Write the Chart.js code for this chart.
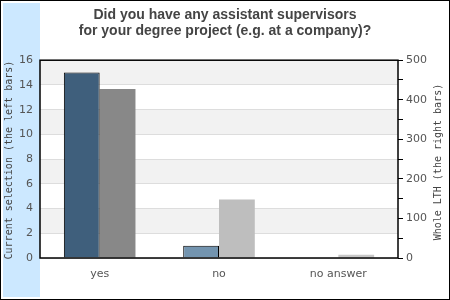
<!DOCTYPE html>
<html>
<head>
<meta charset="utf-8">
<script src="https://cdn.jsdelivr.net/npm/chart.js@4/dist/chart.umd.min.js"></script>
<style>
  html, body { margin: 0; padding: 0; background: #fff; }
  #wrap { width: 450px; height: 300px; position: relative; }
</style>
</head>
<body>
<div id="wrap"><canvas id="chart" width="450" height="300"></canvas></div>
<script>
// answers and counts
const categories = ['yes', 'no', 'no answer'];
const currentSelection = [15, 1, 0];
const wholeLTH = [427, 148, 8];
const leftTicks = [0, 2, 4, 6, 8, 10, 12, 14, 16];
const rightTicks = [0, 100, 200, 300, 400, 500];

const leftColors = ['#3f5f7c', '#7394af', '#7394af'];
const rightColors = ['#888888', '#bebebe', '#c8c8c8'];

const leftTitle = 'Current selection (the left bars)';
const rightTitle = 'Whole LTH (the right bars)';

function drawSideTitle(ctx, text, x, y) {
    ctx.save();
    ctx.translate(x, y);
    ctx.rotate(-Math.PI / 2);
    ctx.fillStyle = '#444';
    ctx.font = '10px "DejaVu Sans Mono"';
    ctx.textAlign = 'center';
    ctx.textBaseline = 'middle';
    ctx.fillText(text, 0, 0);
    ctx.restore();
}

// light blue strip on the left, outer frame, striped plot background
const framePlugin = {
    id: 'frame',
    beforeDraw(chart) {
        const ctx = chart.ctx;
        const a = chart.chartArea;
        ctx.save();
        ctx.fillStyle = '#ffffff';
        ctx.fillRect(0, 0, 450, 300);
        ctx.fillStyle = '#cce8ff';
        ctx.fillRect(3, 3, a.left - 3, 294);
        ctx.strokeStyle = '#000';
        ctx.lineWidth = 1;
        ctx.strokeRect(0.5, 0.5, 449, 299);
        // alternating bands
        const y = chart.scales.y;
        ctx.fillStyle = '#f2f2f2';
        for (let v = 2; v < 16; v += 4) {
            let top = y.getPixelForValue(v + 2);
            let bot = y.getPixelForValue(v);
            ctx.fillRect(a.left, top, a.right - a.left, bot - top);
        }
        ctx.restore();
        let mid = (a.top + a.bottom) / 2 + 1;
        drawSideTitle(ctx, leftTitle, 9, mid);
        drawSideTitle(ctx, rightTitle, 438.5, mid + 2);
    },
    afterDatasetsDraw(chart) {
        const ctx = chart.ctx;
        const a = chart.chartArea;
        ctx.save();
        ctx.strokeStyle = '#000';
        ctx.lineWidth = 1.5;
        ctx.strokeRect(a.left, a.top, a.right - a.left, a.bottom - a.top);
        ctx.restore();
    }
};

const data = {
    labels: categories,
    datasets: [{
        label: 'Current selection',
        data: currentSelection,
        yAxisID: 'y',
        backgroundColor: leftColors,
        borderColor: '#000',
        borderWidth: 1
    }, {
        label: 'Whole LTH',
        data: wholeLTH,
        yAxisID: 'y1',
        backgroundColor: rightColors,
        borderColor: rightColors,
        borderWidth: 0
    }]
};

const config = {
    type: 'bar',
    data: data,
    options: {
        responsive: false,
        animation: false,
        layout: { padding: { left: 0, right: 0, top: 0, bottom: 0 } },
        datasets: {
            bar: { categoryPercentage: 0.6, barPercentage: 1.0 }
        },
        plugins: {
            legend: { display: false },
            tooltip: { enabled: false },
            title: {
                display: true,
                text: ['Did you have any assistant supervisors', 'for your degree project (e.g. at a company)?'],
                color: '#444',
                font: { family: 'Liberation Sans, Arial', size: 14, weight: 'bold', lineHeight: 1.15 },
                padding: { top: 7, bottom: 21 }
            }
        },
        scales: {
            x: {
                grid: { display: false },
                border: { display: false },
                ticks: { color: '#555', font: { family: 'DejaVu Sans', size: 11 }, padding: 2 },
                afterFit(scale) { scale.height = 42; }
            },
            y: {
                position: 'left',
                min: 0,
                max: 16,
                afterBuildTicks(scale) { scale.ticks = leftTicks.map(v => ({ value: v })); },
                grid: { color: '#dddddd', drawTicks: false },
                border: { display: false },
                ticks: { color: '#555', font: { family: 'DejaVu Sans', size: 11 }, padding: 7 },
                afterFit(scale) { scale.width = 40; }
            },
            y1: {
                position: 'right',
                min: 0,
                max: 500,
                afterBuildTicks(scale) {
                    let t = [];
                    for (let v = 0; v <= 500; v += 50) t.push({ value: v });
                    scale.ticks = t;
                },
                grid: { drawOnChartArea: false, color: '#000', tickLength: 5, tickWidth: 1 },
                border: { display: false },
                ticks: {
                    color: '#555',
                    font: { family: 'DejaVu Sans', size: 11 },
                    padding: 3,
                    callback: v => rightTicks.includes(v) ? v : ''
                },
                afterFit(scale) { scale.width = 52; }
            }
        }
    },
    plugins: [framePlugin]
};

let ctx = document.getElementById('chart').getContext('2d');
new Chart(ctx, config);
</script>
</body>
</html>
